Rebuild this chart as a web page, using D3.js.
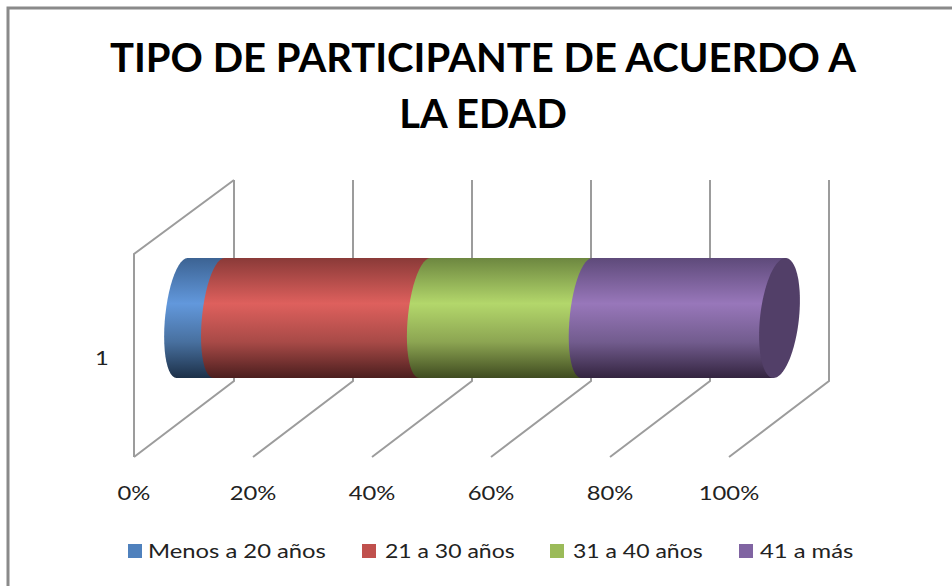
<!DOCTYPE html>
<html>
<head>
<meta charset="utf-8">
<script src="https://cdn.jsdelivr.net/npm/d3@7"></script>
<style>
  html, body { margin: 0; padding: 0; background: #fff; }
  svg { display: block; }
  text { font-family: Lato, "Open Sans", sans-serif; fill: #222; }
</style>
</head>
<body>
<div id="vizContainer"></div>
<script>
const titleLines = ["TIPO DE PARTICIPANTE DE ACUERDO A", "LA EDAD"];
const categories = ["1"];
const seriesNames = ["Menos a 20 años", "21 a 30 años", "31 a 40 años", "41 a más"];
const seriesValues = [6.2, 34.6, 27.2, 32];
const tickValues = [0, 20, 40, 60, 80, 100];
const seriesColors = ["#4f81bd", "#c0504d", "#9bbb59", "#8064a2"];
const gradientStops = [
  ["#3c6393", "#6298dc", "#48709f", "#1c3048"],
  ["#8a3a38", "#de605d", "#a84a47", "#4b1e1e"],
  ["#6d8740", "#b3d76b", "#8ca552", "#3f4b20"],
  ["#5e4a7a", "#9877ba", "#725c8e", "#33243f"]
];
const stopOffsets = [0, 0.38, 0.7, 1];

const width = 952;
const height = 586;
const textStretch = 1.19; // the original is a stretched screenshot

const svg = d3.select("#vizContainer")
  .append("svg")
  .attr("width", width)
  .attr("height", height);

// chart frame, only the top and left edges are inside the picture
svg.append("path")
  .attr("d", `M8,${height}V8H${width}`)
  .attr("fill", "none")
  .attr("stroke", "#8a8a8a")
  .attr("stroke-width", 3);

svg.append("g").selectAll("text")
  .data(titleLines)
  .enter()
  .append("text")
  .attr("x", 483)
  .attr("y", (d, i) => 72 + i * 56)
  .attr("text-anchor", "middle")
  .attr("font-size", 40)
  .attr("font-weight", 700)
  .style("fill", "#000")
  .text(d => d);

// back wall scale, everything else is an offset from it
const x = d3.scaleLinear().domain([0, 100]).range([234, 829]);
const wallTop = 180;
const wallBottom = 381;
const depthX = -100;
const depthY = 76;

const walls = svg.append("g")
  .attr("fill", "none")
  .attr("stroke", "#9c9c9c")
  .attr("stroke-width", 2);

walls.selectAll(".grid")
  .data(tickValues)
  .enter()
  .append("path")
  .attr("class", "grid")
  .attr("d", d => `M${x(d)},${wallTop}V${wallBottom}l${depthX},${depthY}`);

// left side wall
walls.append("path")
  .attr("d", `M${x(0)},${wallTop}l${depthX},${depthY - 2}V${wallBottom + depthY}`);

svg.append("g").selectAll("text")
  .data(tickValues)
  .enter()
  .append("text")
  .attr("transform", d => `translate(${x(d) + depthX},500) scale(${textStretch},1)`)
  .attr("text-anchor", "middle")
  .attr("font-size", 20)
  .text(d => d + "%");

svg.append("text")
  .attr("transform", `translate(102,365) scale(${textStretch},1)`)
  .attr("text-anchor", "middle")
  .attr("font-size", 20)
  .text(categories[0]);

// cylinder
const barOffset = -69;
const barTop = 258;
const barBottom = 378;
const barMid = (barTop + barBottom) / 2;
const ry = (barBottom - barTop) / 2;
const arcRx = 17;
const shear = 5.5;

const defs = svg.append("defs");
gradientStops.forEach((stops, i) => {
  const g = defs.append("linearGradient")
    .attr("id", "grad" + i)
    .attr("x1", 0).attr("y1", 0).attr("x2", 0).attr("y2", 1);
  stops.forEach((c, j) => {
    g.append("stop").attr("offset", stopOffsets[j]).attr("stop-color", c);
  });
});

const cum = d3.cumsum(seriesValues);
const starts = cum.map((c, i) => c - seriesValues[i]);
const px = v => x(v) + barOffset;
const angles = d3.range(0, 1.0001, 0.04).map(t => Math.PI / 2 + t * Math.PI);

// left edge of a section: a half ellipse leaning to the right at the top
const leftArc = (v, rx, s) => angles.map(a => {
  const c = px(v) + rx;
  const yy = Math.sin(a);
  return [c + rx * Math.cos(a) - s * yy, barMid + ry * yy];
});
const capRx = 19.5;
const capShear = 6;
const capCx = px(100) + capRx;
const line = d3.line();

svg.append("g").selectAll("path")
  .data(seriesValues)
  .enter()
  .append("path")
  .attr("fill", (d, i) => `url(#grad${i})`)
  .attr("d", (d, i) => {
    // arc runs bottom to top, then across the top and back along the bottom
    const arc = leftArc(starts[i], arcRx, shear);
    const endX = i === seriesValues.length - 1 ? capCx : px(cum[i]) + arcRx;
    const endS = i === seriesValues.length - 1 ? capShear : shear;
    return line(arc.concat([[endX + endS, barTop], [endX - endS, barBottom]])) + "Z";
  });

svg.append("path")
  .attr("fill", "#523f68")
  .attr("d", line(d3.range(0, 2 * Math.PI, 0.05).map(a => [
    capCx + capRx * Math.cos(a) - capShear * Math.sin(a),
    barMid + ry * Math.sin(a)
  ])) + "Z");

// legend
const legendX = [128, 362, 550, 739];
const legendTextGap = [20, 23, 23, 21];
const legendStretch = [1.19, 1.15, 1.15, 1.19];
const legend = svg.append("g").selectAll("g")
  .data(seriesNames)
  .enter()
  .append("g")
  .attr("transform", (d, i) => `translate(${legendX[i]},544)`);

legend.append("rect")
  .attr("width", 14)
  .attr("height", 14)
  .attr("fill", (d, i) => seriesColors[i]);

legend.append("text")
  .attr("transform", (d, i) => `translate(${legendTextGap[i]},14) scale(${legendStretch[i]},1)`)
  .attr("font-size", 20)
  .text(d => d);
</script>
</body>
</html>
